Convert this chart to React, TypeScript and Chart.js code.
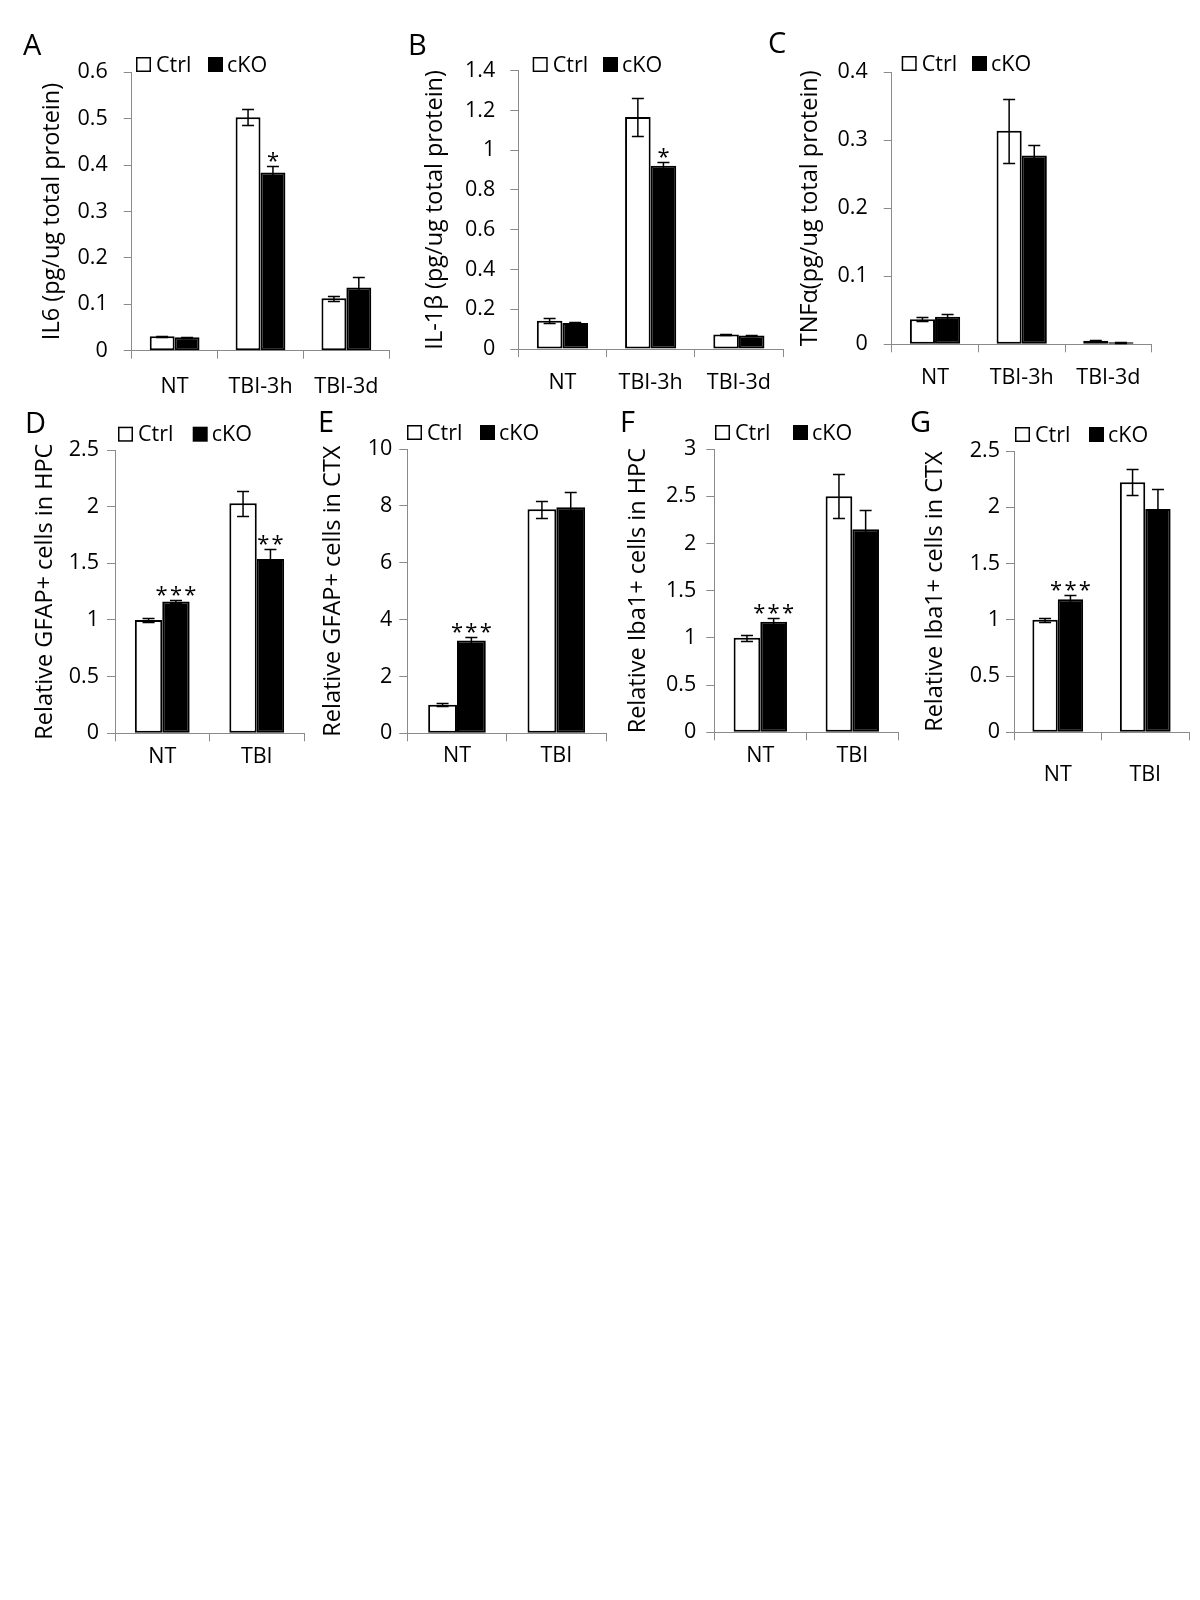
import React, { useEffect, useRef } from 'react';
import { Chart, registerables } from 'chart.js';

Chart.register(...registerables);

const FONT = '"Open Sans", "DejaVu Sans", sans-serif';
const GRAY = '#8a8a8a';

// ---------- categories ----------
const catsTime = ['NT', 'TBI-3h', 'TBI-3d'];
const catsInjury = ['NT', 'TBI'];
const seriesNames = ['Ctrl', 'cKO'];

// ---------- A: IL6 ----------
const il6Ctrl = [0.031, 0.503, 0.113];
const il6CtrlErr = [0.001, 0.017, 0.005];
const il6Cko = [0.029, 0.384, 0.136];
const il6CkoErr = [0.001, 0.014, 0.022];
const il6Sig = ['', '*', ''];
const il6Ticks = [0, 0.1, 0.2, 0.3, 0.4, 0.5, 0.6];

// ---------- B: IL-1β ----------
const il1bCtrl = [0.142, 1.167, 0.073];
const il1bCtrlErr = [0.012, 0.097, 0.003];
const il1bCko = [0.131, 0.922, 0.068];
const il1bCkoErr = [0.003, 0.017, 0.001];
const il1bSig = ['', '*', ''];
const il1bTicks = [0, 0.2, 0.4, 0.6, 0.8, 1, 1.2, 1.4];

// ---------- C: TNFα ----------
const tnfCtrl = [0.037, 0.314, 0.0053];
const tnfCtrlErr = [0.0025, 0.047, 0.001];
const tnfCko = [0.0405, 0.2775, 0.003];
const tnfCkoErr = [0.004, 0.016, 0.0005];
const tnfSig = ['', '', ''];
const tnfTicks = [0, 0.1, 0.2, 0.3, 0.4];

// ---------- D: GFAP+ HPC ----------
const gfapHpcCtrl = [1.0, 2.03];
const gfapHpcCtrlErr = [0.015, 0.11];
const gfapHpcCko = [1.162, 1.538];
const gfapHpcCkoErr = [0.015, 0.089];
const gfapHpcSig = ['***', '**'];
const gfapHpcTicks = [0, 0.5, 1, 1.5, 2, 2.5];

// ---------- E: GFAP+ CTX ----------
const gfapCtxCtrl = [1.0, 7.88];
const gfapCtxCtrlErr = [0.05, 0.29];
const gfapCtxCko = [3.26, 7.95];
const gfapCtxCkoErr = [0.12, 0.55];
const gfapCtxSig = ['***', ''];
const gfapCtxTicks = [0, 2, 4, 6, 8, 10];

// ---------- F: Iba1+ HPC ----------
const ibaHpcCtrl = [1.0, 2.5];
const ibaHpcCtrlErr = [0.03, 0.233];
const ibaHpcCko = [1.171, 2.15];
const ibaHpcCkoErr = [0.036, 0.2];
const ibaHpcSig = ['***', ''];
const ibaHpcTicks = [0, 0.5, 1, 1.5, 2, 2.5, 3];

// ---------- G: Iba1+ CTX ----------
const ibaCtxCtrl = [1.0, 2.222];
const ibaCtxCtrlErr = [0.02, 0.115];
const ibaCtxCko = [1.182, 1.985];
const ibaCtxCkoErr = [0.04, 0.178];
const ibaCtxSig = ['***', ''];
const ibaCtxTicks = [0, 0.5, 1, 1.5, 2, 2.5];

type Panel = {
  letter: string;
  title: string;
  cats: string[];
  ctrl: number[];
  ctrlErr: number[];
  cko: number[];
  ckoErr: number[];
  sig: string[];
  ticks: number[];
  // layout (page coordinates)
  box: [number, number, number, number];
  area: [number, number, number, number];
  titleCX: number;
  yPad: number;
  xPad: number;
  legend: [number, number, number];
  letterPos: [number, number];
};

const panels: Panel[] = [
  {
    letter: 'A', title: 'IL6 (pg/ug total protein)', cats: catsTime,
    ctrl: il6Ctrl, ctrlErr: il6CtrlErr, cko: il6Cko, ckoErr: il6CkoErr, sig: il6Sig, ticks: il6Ticks,
    box: [5, 20, 395, 380], area: [131.7, 389.3, 72.3, 350.7], titleCX: 52, yPad: 16, xPad: 15,
    legend: [136, 208, 57], letterPos: [23, 55],
  },
  {
    letter: 'B', title: 'IL-1β (pg/ug total protein)', cats: catsTime,
    ctrl: il1bCtrl, ctrlErr: il1bCtrlErr, cko: il1bCko, ckoErr: il1bCkoErr, sig: il1bSig, ticks: il1bTicks,
    box: [392, 20, 400, 380], area: [518.3, 783, 70.7, 349], titleCX: 435, yPad: 15, xPad: 13,
    legend: [532.7, 603, 57], letterPos: [408, 55],
  },
  {
    letter: 'C', title: 'TNFα(pg/ug total protein)', cats: catsTime,
    ctrl: tnfCtrl, ctrlErr: tnfCtrlErr, cko: tnfCko, ckoErr: tnfCkoErr, sig: tnfSig, ticks: tnfTicks,
    box: [765, 20, 430, 380], area: [891.7, 1151.7, 72.3, 344.3], titleCX: 810, yPad: 16, xPad: 13,
    legend: [901.7, 972, 56], letterPos: [768, 53],
  },
  {
    letter: 'D', title: 'Relative GFAP+ cells in HPC', cats: catsInjury,
    ctrl: gfapHpcCtrl, ctrlErr: gfapHpcCtrlErr, cko: gfapHpcCko, ckoErr: gfapHpcCkoErr, sig: gfapHpcSig, ticks: gfapHpcTicks,
    box: [5, 400, 305, 400], area: [115, 304, 450, 733.3], titleCX: 45, yPad: 8, xPad: 3,
    legend: [118, 192.7, 426.7], letterPos: [25, 433],
  },
  {
    letter: 'E', title: 'Relative GFAP+ cells in CTX', cats: catsInjury,
    ctrl: gfapCtxCtrl, ctrlErr: gfapCtxCtrlErr, cko: gfapCtxCko, ckoErr: gfapCtxCkoErr, sig: gfapCtxSig, ticks: gfapCtxTicks,
    box: [305, 400, 305, 400], area: [407.3, 606, 449, 733.3], titleCX: 333, yPad: 7, xPad: 2,
    legend: [407, 480, 425], letterPos: [318, 432],
  },
  {
    letter: 'F', title: 'Relative Iba1+ cells in HPC', cats: catsInjury,
    ctrl: ibaHpcCtrl, ctrlErr: ibaHpcCtrlErr, cko: ibaHpcCko, ckoErr: ibaHpcCkoErr, sig: ibaHpcSig, ticks: ibaHpcTicks,
    box: [610, 400, 295, 400], area: [714.3, 898.3, 449, 732.3], titleCX: 638, yPad: 10, xPad: 3,
    legend: [715, 793, 425], letterPos: [620, 432],
  },
  {
    letter: 'G', title: 'Relative Iba1+ cells in CTX', cats: catsInjury,
    ctrl: ibaCtxCtrl, ctrlErr: ibaCtxCtrlErr, cko: ibaCtxCko, ckoErr: ibaCtxCkoErr, sig: ibaCtxSig, ticks: ibaCtxTicks,
    box: [900, 400, 295, 400], area: [1014, 1189, 451, 732.3], titleCX: 935, yPad: 6, xPad: 22,
    legend: [1015, 1089, 427], letterPos: [910, 432],
  },
];

const TITLE_SIZE = 23.5;
const TICK_SIZE = 21.5;
const LEGEND_SIZE = 21.5;
const LETTER_SIZE = 29;
const STAR_SIZE = 22;

function makeDecor(p: Panel, errs: number[][]) {
  const [cx, cy] = p.box;
  return {
    id: 'decor' + p.letter,
    afterDatasetsDraw(chart: any) {
      const ctx = chart.ctx;
      const yScale = chart.scales.y;
      ctx.save();
      ctx.strokeStyle = '#000';
      ctx.lineWidth = 1.5;
      chart.data.datasets.forEach((ds: any, i: number) => {
        const meta = chart.getDatasetMeta(i);
        meta.data.forEach((el: any, j: number) => {
          const v = ds.data[j];
          const e = errs[i][j];
          const x = el.x;
          const yt = Math.round(yScale.getPixelForValue(v + e)) + 0.5;
          const yb = Math.round(yScale.getPixelForValue(Math.max(0, v - e))) + 0.5;
          ctx.beginPath();
          ctx.moveTo(x, yt);
          ctx.lineTo(x, yb);
          ctx.moveTo(x - 6, yt);
          ctx.lineTo(x + 6, yt);
          ctx.moveTo(x - 6, yb);
          ctx.lineTo(x + 6, yb);
          ctx.stroke();
        });
      });
      // significance stars above cKO bars
      const ckoMeta = chart.getDatasetMeta(1);
      ctx.fillStyle = '#000';
      ctx.font = `${STAR_SIZE}px ${FONT}`;
      ctx.textAlign = 'center';
      ctx.textBaseline = 'alphabetic';
      p.sig.forEach((s, j) => {
        if (!s) return;
        const el = ckoMeta.data[j];
        const top = yScale.getPixelForValue(p.cko[j] + p.ckoErr[j]);
        ctx.fillText(s.split('').join('\u200A'), el.x, top + 2);
      });
      ctx.restore();
    },
    afterDraw(chart: any) {
      const ctx = chart.ctx;
      ctx.save();
      // legend
      const [wx, bx, ly] = p.legend;
      const s = 15;
      ctx.lineWidth = 1.5;
      ctx.strokeStyle = '#000';
      ctx.fillStyle = '#fff';
      ctx.fillRect(wx - cx, ly - cy, s, s);
      ctx.strokeRect(wx - cx + 0.75, ly - cy + 0.75, s - 1.5, s - 1.5);
      ctx.fillStyle = '#000';
      ctx.fillRect(bx - cx, ly - cy, s, s);
      ctx.font = `${LEGEND_SIZE}px ${FONT}`;
      ctx.textAlign = 'left';
      ctx.textBaseline = 'middle';
      ctx.fillText(seriesNames[0], wx - cx + s + 5, ly - cy + s / 2 + 1);
      ctx.fillText(seriesNames[1], bx - cx + s + 4, ly - cy + s / 2 + 1);
      // panel letter
      ctx.font = `${LETTER_SIZE}px ${FONT}`;
      ctx.textBaseline = 'alphabetic';
      ctx.fillText(p.letter, p.letterPos[0] - cx, p.letterPos[1] - cy);
      ctx.restore();
    },
  };
}

function PanelChart({ p }: { p: Panel }) {
  const ref = useRef<HTMLCanvasElement | null>(null);
  const [cx, cy, cw, ch] = p.box;
  const [xL, xR, yT, yB] = p.area;

  useEffect(() => {
    if (!ref.current) return;
    const errs = [p.ctrlErr, p.ckoErr];
    const chart = new Chart(ref.current, {
      type: 'bar',
      data: {
        labels: p.cats,
        datasets: [
          {
            label: seriesNames[0],
            data: p.ctrl,
            backgroundColor: '#ffffff',
            borderColor: '#000000',
            borderWidth: 2,
            borderSkipped: false,
            categoryPercentage: 0.58,
            barPercentage: 1.0,
          },
          {
            label: seriesNames[1],
            data: p.cko,
            backgroundColor: '#000000',
            borderColor: '#000000',
            borderWidth: 2,
            borderSkipped: false,
            categoryPercentage: 0.58,
            barPercentage: 1.0,
          },
        ],
      },
      options: {
        responsive: false,
        maintainAspectRatio: false,
        animation: false,
        devicePixelRatio: 1,
        layout: {
          padding: { left: 0, top: yT - cy, right: cx + cw - xR, bottom: 0 },
        },
        plugins: {
          legend: { display: false },
          tooltip: { enabled: false },
        },
        scales: {
          x: {
            offset: true,
            ticks: {
              font: { family: FONT, size: TICK_SIZE, lineHeight: 1.2 },
              color: '#000',
              padding: p.xPad,
              maxRotation: 0,
              autoSkip: false,
            },
            grid: {
              offset: true,
              drawOnChartArea: false,
              drawTicks: true,
              tickLength: 8,
              color: GRAY,
              lineWidth: 1,
            },
            border: { display: true, color: GRAY, width: 1 },
            afterFit: (s: any) => {
              s.height = cy + ch - yB;
            },
          },
          y: {
            min: 0,
            max: p.ticks[p.ticks.length - 1],
            afterBuildTicks: (s: any) => {
              s.ticks = p.ticks.map((v) => ({ value: v }));
            },
            ticks: {
              font: { family: FONT, size: TICK_SIZE, lineHeight: 1.2 },
              color: '#000',
              padding: p.yPad,
              callback: (v: any) => String(v),
            },
            grid: {
              drawOnChartArea: false,
              drawTicks: true,
              tickLength: 8,
              color: GRAY,
              lineWidth: 1,
            },
            border: { display: true, color: GRAY, width: 1 },
            title: {
              display: true,
              text: p.title,
              color: '#000',
              font: { family: FONT, size: TITLE_SIZE, lineHeight: 1.2 },
              padding: { top: p.titleCX - cx - (TITLE_SIZE * 1.2) / 2, bottom: 0 },
            },
            afterFit: (s: any) => {
              s.width = xL - cx;
            },
          },
        },
      },
      plugins: [makeDecor(p, errs)],
    } as any);
    return () => chart.destroy();
  }, []);

  return (
    <canvas
      ref={ref}
      width={cw}
      height={ch}
      style={{ position: 'absolute', left: cx, top: cy, width: cw, height: ch }}
    />
  );
}

export default function App() {
  return (
    <div
      style={{
        position: 'absolute',
        left: 0,
        top: 0,
        width: 1200,
        height: 1600,
        background: '#ffffff',
        overflow: 'hidden',
      }}
    >
      {panels.map((p) => (
        <PanelChart key={p.letter} p={p} />
      ))}
    </div>
  );
}
